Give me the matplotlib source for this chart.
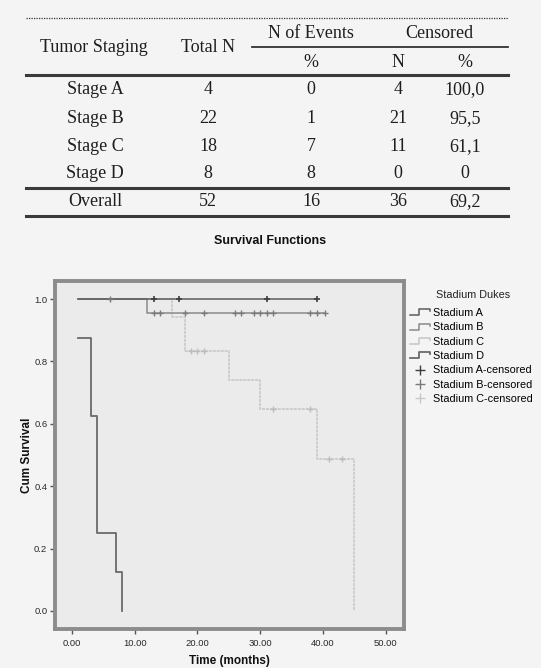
"""Kaplan-Meier style survival chart with a summary table above it (SPSS look)."""

import matplotlib
matplotlib.use("Agg")
import matplotlib.pyplot as plt
import numpy as np
from matplotlib.lines import Line2D
from matplotlib.legend_handler import HandlerBase

# --- Table data ---
STAGES = ["Stage A", "Stage B", "Stage C", "Stage D", "Overall"]
TOTAL_N = [4, 22, 18, 8, 52]
N_EVENTS = [0, 1, 7, 8, 16]
CENS_N = [4, 21, 11, 0, 36]
CENS_PCT = ["100,0", "95,5", "61,1", "0", "69,2"]

# --- Survival curves (time in months, cumulative survival) ---
A_TIME = [1, 39.1]
A_SURV = [1.0, 1.0]
A_CENS = [13, 17, 31, 39.1]

B_TIME = [1, 12, 40.3]
B_SURV = [1.0, 0.955, 0.955]
B_CENS = [6, 13, 14, 18, 21, 26, 27, 29, 30, 31, 32, 38, 39, 40.3]

C_TIME = [1, 16, 18, 25, 30, 39, 45]
C_SURV = [1.0, 0.944, 0.833, 0.741, 0.648, 0.486, 0.0]
C_CENS = [19, 20, 21, 32, 38, 41, 43]

D_TIME = [1, 3, 4, 7, 8]
D_SURV = [0.875, 0.625, 0.25, 0.125, 0.0]

X_TICKS = [0, 10, 20, 30, 40, 50]
Y_TICKS = [0.0, 0.2, 0.4, 0.6, 0.8, 1.0]

COL_A, COL_B, COL_C, COL_D = "#5c5c5c", "#8a8a8a", "#c6c6c6", "#6a6a6a"

W, H = 541, 668
BG = "#f4f4f4"


def fx(x):
    return x / W


def fy(y):
    return 1 - y / H


def surv_at(times, surv, t):
    idx = np.searchsorted(times, t, side="right") - 1
    return np.asarray(surv)[idx]


class StepHandler(HandlerBase):
    """Little step glyph like SPSS uses in its legend."""

    def create_artists(self, legend, orig, xdescent, ydescent, width, height, fontsize, trans):
        x0, y0 = -xdescent, -ydescent
        lo, hi = y0 + 0.1 * height, y0 + 0.9 * height
        xm = x0 + 0.45 * width
        ln = Line2D([x0, xm, xm, x0 + width, x0 + width], [lo, lo, hi, hi, hi - 0.3 * height],
                    color=orig.get_color(), lw=orig.get_linewidth())
        ln.set_transform(trans)
        return [ln]


fig = plt.figure(figsize=(W / 100, H / 100), dpi=100, facecolor=BG)

# --- Table ---
serif = dict(family="Liberation Serif", fontsize=13, color="#1e1e1e", ha="center", va="center")
fig.add_artist(Line2D([fx(26), fx(508)], [fy(18.3)] * 2, color="#333333", lw=0.9, ls=(0, (1, 1))))
fig.text(fx(311), fy(33), "N of Events", **serif)
fig.text(fx(439), fy(33), "Censored", **serif)
fig.add_artist(Line2D([fx(252), fx(508)], [fy(46.7)] * 2, color="#333333", lw=1.3))
fig.text(fx(94), fy(48), "Tumor Staging", **serif)
fig.text(fx(208), fy(48), "Total N", **serif)
fig.text(fx(311), fy(62.5), "%", **serif)
fig.text(fx(398), fy(62.5), "N", **serif)
fig.text(fx(465), fy(62.5), "%", **serif)
for yl in [75, 187.7, 216]:
    fig.add_artist(Line2D([fx(26), fx(508)], [fy(yl)] * 2, color="#3a3a3a", lw=2.2))

row_y = [90, 118.3, 146.7, 174, 201.7]
for i, stage in enumerate(STAGES):
    y = fy(row_y[i])
    fig.text(fx(95), y, stage, **serif)
    fig.text(fx(208), y, str(TOTAL_N[i]), **serif)
    fig.text(fx(311), y, str(N_EVENTS[i]), **serif)
    fig.text(fx(398), y, str(CENS_N[i]), **serif)
    fig.text(fx(465), y, CENS_PCT[i], **serif)

fig.text(fx(270), fy(241), "Survival Functions", family="Liberation Sans", fontweight="bold",
         fontsize=9, ha="center", va="center", color="#111111")

# --- Survival plot ---
ax = fig.add_axes([fx(55), fy(629), (404 - 55) / W, (629 - 281) / H])
ax.set_facecolor("#ebebeb")

ax.step(C_TIME, C_SURV, where="post", color=COL_C, lw=1.1, ls=(0, (2, 0.6)))
ax.step(B_TIME, B_SURV, where="post", color=COL_B, lw=1.1)
ax.step(A_TIME, A_SURV, where="post", color=COL_A, lw=1.1)
ax.step(D_TIME, D_SURV, where="post", color=COL_D, lw=1.3)

ax.plot(C_CENS, surv_at(C_TIME, C_SURV, C_CENS), "+", color="#bdbdbd", ms=5, mew=1)
ax.plot(B_CENS, surv_at(B_TIME, B_SURV, B_CENS), "+", color="#7a7a7a", ms=5, mew=1)
ax.plot(A_CENS, surv_at(A_TIME, A_SURV, A_CENS), "+", color="#3e3e3e", ms=5, mew=1.2)

ax.set_xlim(-2.7, 52.9)
ax.set_ylim(-0.058, 1.058)
ax.set_xticks(X_TICKS)
ax.set_xticklabels([f"{t:.2f}" for t in X_TICKS])
ax.set_yticks(Y_TICKS)
ax.set_yticklabels([f"{t:.1f}" for t in Y_TICKS])
ax.tick_params(direction="out", length=3.5, width=1, color="#555555", labelsize=6.8,
               labelcolor="#2a2a2a", pad=2)
ax.tick_params(axis="x", pad=3.5)
for lab in ax.get_xticklabels() + ax.get_yticklabels():
    lab.set_family("Liberation Sans")

for sp in ax.spines.values():
    sp.set_color("#8c8c8c")
    sp.set_linewidth(2.8)

ax.set_xlabel("Time (months)", family="Liberation Sans", fontweight="bold", fontsize=8.5,
              labelpad=5, color="#111111")
ax.set_ylabel("Cum Survival", family="Liberation Sans", fontweight="bold", fontsize=8.5,
              labelpad=1, color="#111111")

# --- Legend ---
handles = [
    Line2D([], [], color=COL_A, lw=1.1),
    Line2D([], [], color=COL_B, lw=1.1),
    Line2D([], [], color=COL_C, lw=1.1),
    Line2D([], [], color=COL_D, lw=1.3),
    Line2D([], [], ls="none", marker="+", color="#3e3e3e", ms=7, mew=1),
    Line2D([], [], ls="none", marker="+", color="#7a7a7a", ms=7, mew=1),
    Line2D([], [], ls="none", marker="+", color="#c8c8c8", ms=7, mew=1),
]
labels = ["Stadium A", "Stadium B", "Stadium C", "Stadium D",
          "Stadium A-censored", "Stadium B-censored", "Stadium C-censored"]
step_h = StepHandler()
fig.text(fx(473), fy(295), "Stadium Dukes", family="Liberation Sans", fontsize=7.8,
         ha="center", va="center", color="#222222")
fig.legend(handles, labels, loc="upper left", bbox_to_anchor=(fx(410), fy(308)),
           frameon=False, handlelength=1.8, handletextpad=0.3, labelspacing=0.4, borderpad=0,
           borderaxespad=0, handler_map={h: step_h for h in handles[:4]},
           prop={"family": "Liberation Sans", "size": 7.8})

fig.savefig("out.png", dpi=100, facecolor=BG)
